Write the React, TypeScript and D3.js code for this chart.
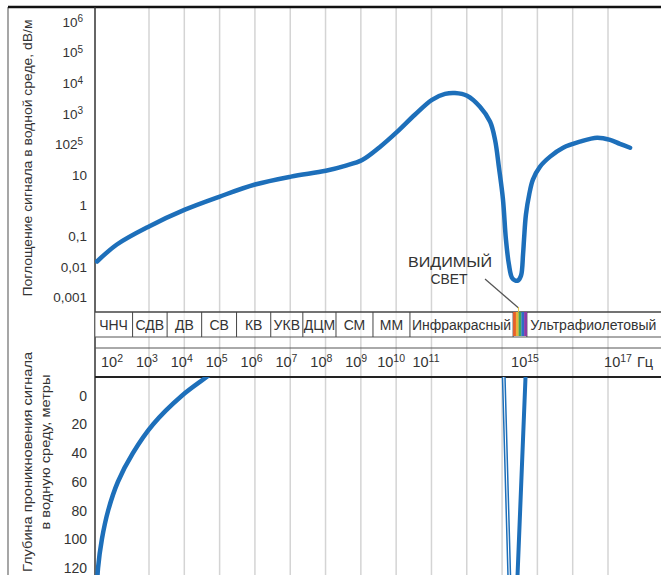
import React from "react";
import * as d3 from "d3";

// ---- data ----
// top curve: absorption (dB/m) vs log10 frequency (Hz)
const absorptionFreqExp = [1.57, 2.14, 3.06, 4.09, 5.07, 6.10, 7.13, 8.13, 8.68, 9.17, 9.68, 10.17, 10.68, 11.24, 11.77, 12.17, 12.66, 13.18, 13.59, 13.79, 13.95, 14.11, 14.23, 14.35, 14.47, 14.60, 14.72, 14.84, 14.92, 14.96, 15.02, 15.09, 15.17, 15.32, 15.54, 15.82, 16.18, 16.55, 16.83, 17.04, 17.26];
const absorptionValues = [0.015, 0.054, 0.21, 0.74, 1.95, 4.9, 8.9, 13.8, 20, 31, 83, 257, 933, 2880, 4470, 4800, 3890, 1700, 550, 141, 17, 1.6, 0.078, 0.012, 0.0045, 0.0036, 0.0036, 0.0052, 0.025, 0.078, 0.51, 2.3, 7.1, 18.6, 40, 78, 123, 166, 141, 105, 78];

// bottom curve: penetration depth (m) vs log10 frequency
const depthFreqExp = [1.56, 1.60, 1.71, 1.89, 2.17, 2.60, 3.18, 4.01, 4.72, 5.1];
const depthValues = [140, 120, 100, 80, 60, 40, 20, 0, -13, -20];
// visible light window
const windowFreqExp = [14.13, 14.5, 15.02];
const windowDepth = [-20, 210, -20];

// ticks
const absorptionTicks = [1e6, 1e5, 1e4, 1e3, 1e2, 10, 1, 0.1, 0.01, 0.001];
const absorptionTickBase = ["10", "10", "10", "10", "102", "10", "1", "0,1", "0,01", "0,001"];
const absorptionTickSup = ["6", "5", "4", "3", "5", "", "", "", "", ""];
const depthTicks = [0, 20, 40, 60, 80, 100, 120];
const freqTickExp = [2, 3, 4, 5, 6, 7, 8, 9, 10, 11, 15, 17];

// bands
const bandNames = ["ЧНЧ", "СДВ", "ДВ", "СВ", "КВ", "УКВ", "ДЦМ", "СМ", "ММ", "Инфракрасный", "", "Ультрафиолетовый"];
const bandEdges = [1.5, 2.59, 3.58, 4.57, 5.57, 6.55, 7.47, 8.42, 9.48, 10.54, 14.52, 15.04, 17.9];
const spectrumColors = ["#ea5f2a", "#e8b43a", "#3ea85a", "#2f6cc6", "#8b3aa6"];
const gridCount = 14;

const FONT = "'Liberation Sans', Arial, Helvetica, sans-serif";
const BLUE = "#1d6fba";
const TEXT = "#333";

export default function App() {
  const W = 661, H = 575;
  const left = 95, right = 661;
  const topY = 7, bandTop = 312, bandBot = 337, labTop = 348, labBot = 377;

  const x = d3.scaleLinear().domain([2, 11, 15, 17]).range([112, 426, 525, 618]);
  const gridX = d3.scaleLinear().domain([0, gridCount - 1]).range([149, 608]);
  const yA = d3.scaleLog().domain([0.001, 1e6]).range([297.5, 22]);
  const yD = d3.scaleLinear().domain([0, 120]).range([395.5, 568]);

  const absLine = d3.line<number>()
    .x((_, i) => x(absorptionFreqExp[i]))
    .y((v) => yA(v))
    .curve(d3.curveCatmullRom.alpha(0.5));
  const depthLine = d3.line<number>()
    .x((_, i) => x(depthFreqExp[i]))
    .y((v) => yD(v))
    .curve(d3.curveCatmullRom.alpha(0.5));
  const windowLine = d3.line<number>()
    .x((_, i) => x(windowFreqExp[i]))
    .y((v) => yD(v));

  const specX0 = x(bandEdges[10]);
  const specX1 = x(bandEdges[11]);
  const specW = (specX1 - specX0) / spectrumColors.length;

  return (
    <svg width={W} height={H} style={{ position: "absolute", left: 0, top: 0, background: "#fff" }} fontFamily={FONT}>
      <defs>
        <clipPath id="topClip"><rect x={left} y={topY} width={right - left} height={bandTop - topY} /></clipPath>
        <clipPath id="botClip"><rect x={left} y={labBot} width={right - left} height={H - labBot} /></clipPath>
      </defs>
      <rect x={0} y={0} width={W} height={H} fill="#fff" />

      {/* grid */}
      {d3.range(gridCount).map((i) => (
        <line key={"g" + i} x1={gridX(i)} x2={gridX(i)} y1={topY} y2={H} stroke="#d4d4d4" strokeWidth={1.5} />
      ))}

      {/* frame */}
      <line x1={8} x2={8} y1={topY} y2={H} stroke="#777" strokeWidth={1.3} />
      <line x1={8} x2={W} y1={topY} y2={topY} stroke="#111" strokeWidth={2.5} />
      <line x1={left} x2={left} y1={topY} y2={H} stroke="#333" strokeWidth={1.5} />

      {/* band table rules */}
      <rect x={left} y={bandTop} width={right - left} height={bandBot - bandTop} fill="#fff" fillOpacity={0.6} />
      <line x1={left} x2={right} y1={bandTop} y2={bandTop} stroke="#444" strokeWidth={1.3} />
      <line x1={left} x2={right} y1={bandBot} y2={bandBot} stroke="#555" strokeWidth={1} />
      <line x1={left} x2={right} y1={labTop} y2={labTop} stroke="#555" strokeWidth={1} />
      <line x1={left} x2={right} y1={labBot} y2={labBot} stroke="#222" strokeWidth={1.8} />

      {/* band dividers & names */}
      {bandEdges.slice(1, -1).map((e, i) => (
        <line key={"bd" + i} x1={x(e)} x2={x(e)} y1={bandTop} y2={bandBot} stroke="#444" strokeWidth={1} />
      ))}
      {bandNames.map((n, i) => (
        n ? <text key={"bn" + i} x={(x(bandEdges[i]) + x(bandEdges[i + 1])) / 2} y={329.5} fontSize={14} fill={TEXT} textAnchor="middle">{n}</text> : null
      ))}
      {spectrumColors.map((c, i) => (
        <rect key={"sp" + i} x={specX0 + i * specW} y={bandTop} width={specW + 0.2} height={bandBot - bandTop - 1} fill={c} />
      ))}

      {/* frequency labels */}
      {freqTickExp.map((e) => (
        <text key={"f" + e} x={x(e)} y={367} fontSize={14.5} fill={TEXT} textAnchor="middle">
          10<tspan fontSize={10.5} dy={-5}>{e}</tspan>
        </text>
      ))}
      <text x={x(17) + 19} y={367} fontSize={14.5} fill={TEXT}>Гц</text>

      {/* top axis ticks */}
      {absorptionTicks.map((v, i) => (
        <text key={"a" + i} x={absorptionTickSup[i] ? 83 : 87} y={yA(v) + 4.8} fontSize={13.5} fill={TEXT} textAnchor="end">
          {absorptionTickBase[i]}
          {absorptionTickSup[i] ? <tspan fontSize={10} dy={-4.5}>{absorptionTickSup[i]}</tspan> : null}
        </text>
      ))}
      {/* bottom axis ticks */}
      {depthTicks.map((v) => (
        <text key={"d" + v} x={87} y={yD(v) + 5} fontSize={14} fill={TEXT} textAnchor="end">{v}</text>
      ))}

      {/* axis titles */}
      <text transform="translate(32,158) rotate(-90)" fontSize={13.5} fill={TEXT} textAnchor="middle"
        textLength={277} lengthAdjust="spacingAndGlyphs">Поглощение сигнала в водной среде, dB/м</text>
      <text transform="translate(32,462) rotate(-90)" fontSize={13.5} fill={TEXT} textAnchor="middle"
        textLength={220} lengthAdjust="spacingAndGlyphs">Глубина проникновения сигнала</text>
      <text transform="translate(50,452) rotate(-90)" fontSize={13.5} fill={TEXT} textAnchor="middle"
        textLength={155} lengthAdjust="spacingAndGlyphs">в водную среду, метры</text>

      {/* curves */}
      <g clipPath="url(#topClip)">
        <path d={absLine(absorptionValues) || ""} fill="none" stroke={BLUE} strokeWidth={4.5} strokeLinejoin="round" strokeLinecap="round" />
      </g>
      <g clipPath="url(#botClip)">
        <path d={depthLine(depthValues) || ""} fill="none" stroke={BLUE} strokeWidth={4.5} strokeLinecap="round" />
        <path d={windowLine(windowDepth) || ""} fill="none" stroke={BLUE} strokeWidth={4} strokeLinejoin="round" />
        <line x1={x(windowFreqExp[0])} y1={yD(windowDepth[0])}
          x2={x(windowFreqExp[0]) + (x(windowFreqExp[1]) - x(windowFreqExp[0])) * 0.75}
          y2={yD(windowDepth[0]) + (yD(windowDepth[1]) - yD(windowDepth[0])) * 0.75}
          stroke="#fff" strokeWidth={1} />
      </g>

      {/* visible light annotation */}
      <line x1={485} y1={279} x2={x(14.74)} y2={bandTop - 4} stroke="#555" strokeWidth={1.2} />
      <line x1={x(14.74)} y1={bandTop - 5} x2={x(14.74)} y2={bandTop} stroke="#e2c640" strokeWidth={1} />
      <text x={450} y={267} fontSize={14} fill={TEXT} textAnchor="middle" textLength={84} lengthAdjust="spacingAndGlyphs">ВИДИМЫЙ</text>
      <text x={449} y={284} fontSize={14} fill={TEXT} textAnchor="middle" textLength={37} lengthAdjust="spacingAndGlyphs">СВЕТ</text>
    </svg>
  );
}
